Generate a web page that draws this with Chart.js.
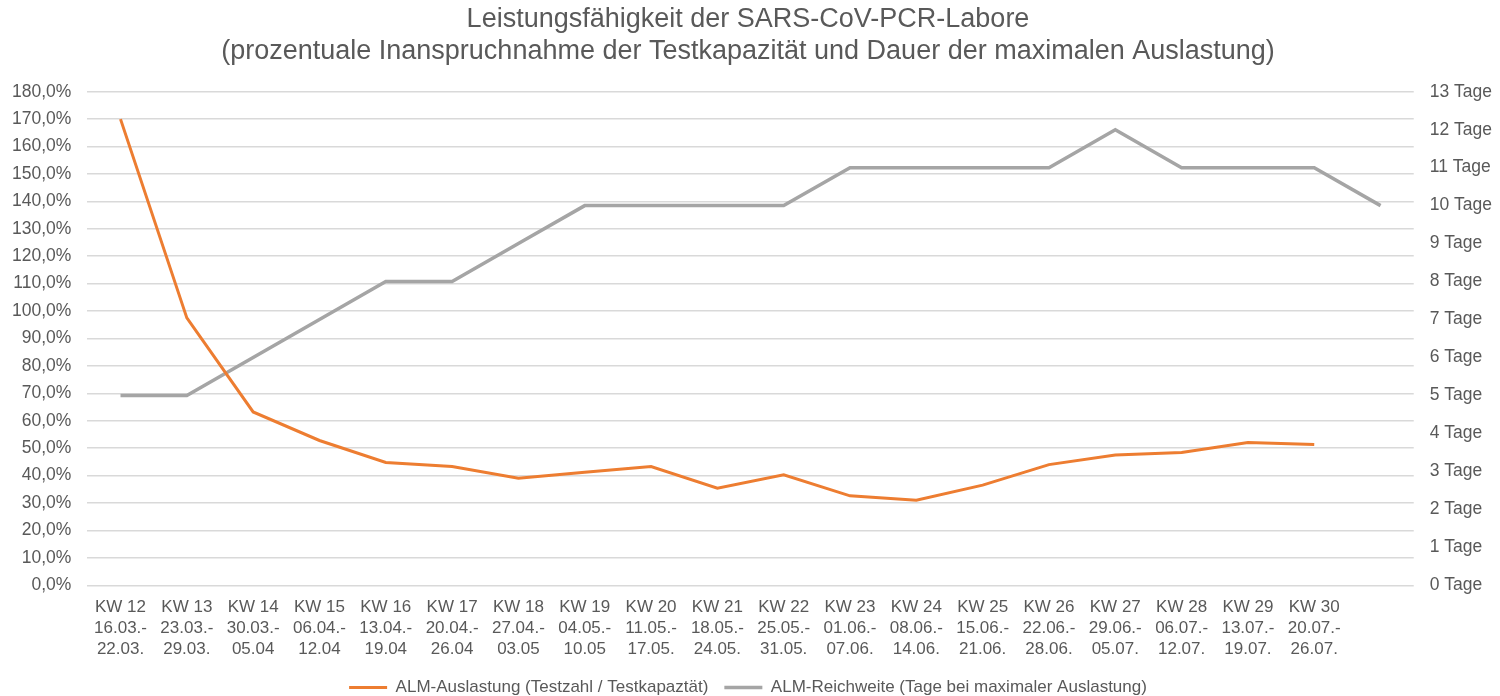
<!DOCTYPE html>
<html>
<head>
<meta charset="utf-8">
<script src="https://cdn.jsdelivr.net/npm/chart.js@4.4.1/dist/chart.umd.min.js"></script>
<style>
  body { margin: 0; background: #fff; }
  #wrap { width: 1500px; height: 696px; position: relative; }
</style>
</head>
<body>
<div id="wrap"><canvas id="grafico"></canvas></div>
<script>
// Kalenderwochen und Zeiträume (letzte Kategorie ohne Beschriftung)
const kw = ['KW 12','KW 13','KW 14','KW 15','KW 16','KW 17','KW 18','KW 19','KW 20','KW 21',
            'KW 22','KW 23','KW 24','KW 25','KW 26','KW 27','KW 28','KW 29','KW 30',''];
const von = ['16.03.-','23.03.-','30.03.-','06.04.-','13.04.-','20.04.-','27.04.-','04.05.-','11.05.-','18.05.-',
             '25.05.-','01.06.-','08.06.-','15.06.-','22.06.-','29.06.-','06.07.-','13.07.-','20.07.-',''];
const bis = ['22.03.','29.03.','05.04','12.04','19.04','26.04','03.05','10.05','17.05.','24.05.',
             '31.05.','07.06.','14.06.','21.06.','28.06.','05.07.','12.07.','19.07.','26.07.',''];

// ALM-Auslastung in Prozent
const auslastung = [170, 97.5, 63.2, 52.8, 44.8, 43.3, 39.0, 41.2, 43.3, 35.4,
                    40.3, 32.6, 31.0, 36.5, 44.0, 47.5, 48.4, 52.1, 51.3, null];
// ALM-Reichweite in Tagen
const reichweite = [5, 5, 6, 7, 8, 8, 9, 10, 10, 10, 10, 11, 11, 11, 11, 12, 11, 11, 11, 10];

const FONT = '"Liberation Sans", Arial, sans-serif';
const GRAU_TEXT = '#595959';

const labels = kw.map((k, i) => [k, von[i], bis[i]]);

new Chart(document.getElementById('grafico').getContext('2d'), {
    type: 'line',
    data: {
        labels,
        datasets: [
            {
                label: 'ALM-Auslastung (Testzahl / Testkapaztät)',
                data: auslastung,
                borderColor: '#ED7D31',
                backgroundColor: '#ED7D31',
                borderWidth: 3,
                pointRadius: 0,
                tension: 0,
                yAxisID: 'y'
            },
            {
                label: 'ALM-Reichweite (Tage bei maximaler Auslastung)',
                data: reichweite,
                borderColor: '#A5A5A5',
                backgroundColor: '#A5A5A5',
                borderWidth: 3.5,
                pointRadius: 0,
                tension: 0,
                yAxisID: 'y2'
            }
        ]
    },
    options: {
        responsive: true,
        maintainAspectRatio: false,
        animation: false,
        layout: { padding: { left: -4, right: 0, top: 4, bottom: -10 } },
        plugins: {
            title: {
                display: true,
                text: ['Leistungsfähigkeit der SARS-CoV-PCR-Labore',
                       '(prozentuale Inanspruchnahme der Testkapazität und Dauer der maximalen Auslastung)'],
                color: GRAU_TEXT,
                font: { family: FONT, size: 27, weight: 'normal', lineHeight: 1.18 },
                padding: { top: 0, bottom: 24 }
            },
            legend: {
                position: 'bottom',
                labels: {
                    color: GRAU_TEXT,
                    font: { family: FONT, size: 17 },
                    usePointStyle: true,
                    pointStyle: 'line',
                    pointStyleWidth: 38,
                    padding: 16
                }
            },
            tooltip: { enabled: false }
        },
        scales: {
            x: {
                offset: true,
                grid: { display: false, offset: true },
                border: { display: false },
                ticks: {
                    color: GRAU_TEXT,
                    font: { family: FONT, size: 17, lineHeight: 1.25 },
                    maxRotation: 0,
                    autoSkip: false,
                    padding: 3
                }
            },
            y: {
                position: 'left',
                min: 0,
                max: 180,
                border: { display: false },
                grid: { color: '#D9D9D9', lineWidth: 1.5, drawTicks: false },
                ticks: {
                    stepSize: 10,
                    color: GRAU_TEXT,
                    font: { family: FONT, size: 17.5 },
                    padding: 16,
                    callback: v => v.toFixed(1).replace('.', ',') + '%'
                }
            },
            y2: {
                position: 'right',
                min: 0,
                max: 13,
                border: { display: false },
                grid: { display: false },
                ticks: {
                    stepSize: 1,
                    color: GRAU_TEXT,
                    font: { family: FONT, size: 17.5 },
                    padding: 8,
                    callback: v => v + ' Tage'
                }
            }
        }
    }
});
</script>
</body>
</html>
